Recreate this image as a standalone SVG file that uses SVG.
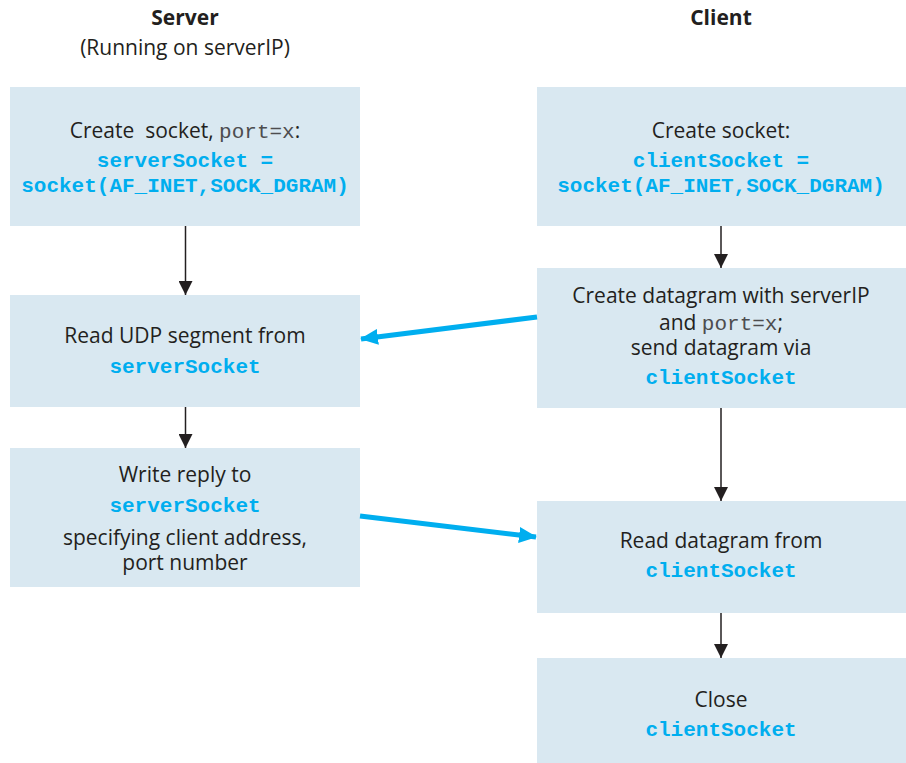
<svg xmlns="http://www.w3.org/2000/svg" width="906" height="763" viewBox="0 0 906 763">
<style>
.box{fill:#D9E8F1}
.t{font-family:"Open Sans","Noto Sans",sans-serif;font-size:21px;fill:#231F20;text-anchor:middle}
.h{font-weight:bold}
.c{font-family:"Liberation Mono","Courier New",monospace;font-size:21px;font-weight:bold;fill:#00AEEF}
.m{font-family:"Liberation Mono","Courier New",monospace;font-size:21px;fill:#4D4D4F}
.k{stroke:#231F20;stroke-width:1.5;fill:none}
.b{stroke:#00AEEF;stroke-width:5;fill:none}
</style>
<defs>
<marker id="ak" markerUnits="userSpaceOnUse" markerWidth="14" markerHeight="14" viewBox="0 0 14 14" refX="14" refY="7" orient="auto">
<path d="M0,0 L14,7 L0,14 Z" fill="#231F20"/>
</marker>
<marker id="ab" markerUnits="userSpaceOnUse" markerWidth="18" markerHeight="16" viewBox="0 0 18 16" refX="17" refY="8" orient="auto">
<path d="M0,0 L18,8 L0,16 Z" fill="#00AEEF"/>
</marker>
</defs>
<g id="titles">
<text class="t h" x="185" y="25">Server</text>
<text class="t" x="185" y="55">(Running on serverIP)</text>
<text class="t h" x="721" y="25">Client</text>
</g>
<g id="s1">
<rect class="box" x="10" y="87" width="350" height="139"/>
<text class="t" x="185" y="138">Create &#160;socket, <tspan class="m">port=x</tspan>:</text>
<text class="t c" x="185" y="167">serverSocket =</text>
<text class="t c" x="185" y="192">socket(AF_INET,SOCK_DGRAM)</text>
</g>
<g id="s2">
<rect class="box" x="10" y="295" width="350" height="112"/>
<text class="t" x="185" y="343">Read UDP segment from</text>
<text class="t c" x="185" y="373">serverSocket</text>
</g>
<g id="s3">
<rect class="box" x="10" y="448" width="350" height="139"/>
<text class="t" x="185" y="482">Write reply to</text>
<text class="t c" x="185" y="512">serverSocket</text>
<text class="t" x="185" y="545">specifying client address,</text>
<text class="t" x="185" y="570">port number</text>
</g>
<g id="c1">
<rect class="box" x="537" y="87" width="369" height="139"/>
<text class="t" x="721" y="138">Create socket:</text>
<text class="t c" x="721" y="167">clientSocket =</text>
<text class="t c" x="721" y="192">socket(AF_INET,SOCK_DGRAM)</text>
</g>
<g id="c2">
<rect class="box" x="537" y="268" width="369" height="140"/>
<text class="t" x="721" y="303">Create datagram with serverIP</text>
<text class="t" x="721" y="330">and <tspan class="m">port=x</tspan>;</text>
<text class="t" x="721" y="355">send datagram via</text>
<text class="t c" x="721" y="384">clientSocket</text>
</g>
<g id="c3">
<rect class="box" x="537" y="501" width="369" height="112"/>
<text class="t" x="721" y="548">Read datagram from</text>
<text class="t c" x="721" y="577">clientSocket</text>
</g>
<g id="c4">
<rect class="box" x="537" y="658" width="369" height="105"/>
<text class="t" x="721" y="707">Close</text>
<text class="t c" x="721" y="736">clientSocket</text>
</g>
<g id="connectors">
<line class="k" x1="185.5" y1="226" x2="185.5" y2="295" marker-end="url(#ak)"/>
<line class="k" x1="185.5" y1="407" x2="185.5" y2="448" marker-end="url(#ak)"/>
<line class="k" x1="721" y1="226" x2="721" y2="268" marker-end="url(#ak)"/>
<line class="k" x1="721" y1="408" x2="721" y2="501" marker-end="url(#ak)"/>
<line class="k" x1="721" y1="613" x2="721" y2="658" marker-end="url(#ak)"/>
<line class="b" x1="537" y1="317" x2="361" y2="339" marker-end="url(#ab)"/>
<line class="b" x1="360" y1="516" x2="536" y2="537" marker-end="url(#ab)"/>
</g>
</svg>
